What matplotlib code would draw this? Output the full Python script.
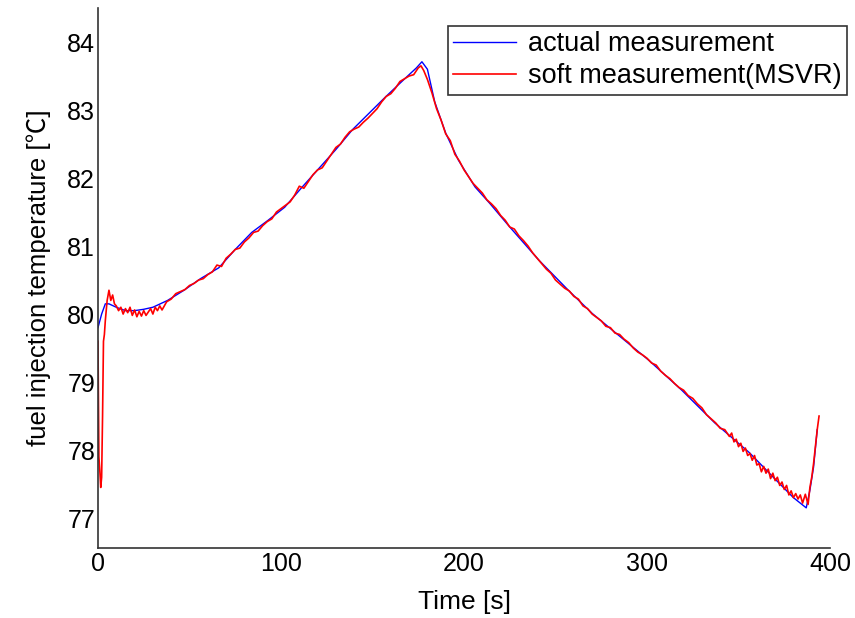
import matplotlib
matplotlib.use("Agg")
import matplotlib.pyplot as plt

plt.rcParams["font.family"] = ["Liberation Sans", "Noto Sans CJK SC", "DejaVu Sans"]

# actual measurement (blue)
actual_t = [0, 2, 4, 6, 10, 15, 20, 25, 30, 38, 47, 56, 66, 75, 84, 93, 102,
            111, 120, 130, 139, 148, 157, 168, 174, 177, 180, 184, 190, 197,
            206, 214, 225, 241, 257, 270, 283, 301, 319, 337, 356, 369, 380,
            387, 389, 391, 393]
actual_v = [79.8, 80.0, 80.15, 80.15, 80.1, 80.05, 80.05, 80.07, 80.1, 80.2,
            80.35, 80.52, 80.68, 80.95, 81.2, 81.38, 81.57, 81.85, 82.12,
            82.42, 82.71, 82.95, 83.19, 83.47, 83.62, 83.71, 83.6, 83.12,
            82.66, 82.26, 81.87, 81.63, 81.28, 80.79, 80.35, 80.01, 79.72,
            79.32, 78.88, 78.4, 77.96, 77.6, 77.3, 77.15, 77.41, 77.75, 78.3]

# soft measurement (MSVR) (red)
soft_t = [0, 0.5, 1, 1.5, 2, 2.5, 3, 3.5, 4, 5, 6, 7, 8, 9,
          10, 11.25, 12.5, 13.75, 15, 16.25, 17.5, 18.75, 20, 21.25, 22.5,
          23.75, 25, 26.25, 27.5, 28.75, 30, 31.25, 32.5, 33.75, 35,
          37.5, 40, 42.5, 45, 47.5, 50, 52.5, 55, 57.5, 60, 62.5, 65, 67.5,
          70, 72.5, 75, 77.5, 80, 82.5, 85, 87.5, 90, 92.5, 95, 97.5, 100,
          102.5, 105, 107.5, 110, 112.5, 115, 117.5, 120, 122.5, 125, 127.5,
          130, 132.5, 135, 137.5, 140, 142.5, 145, 147.5, 150, 152.5, 155,
          157.5, 160, 162.5, 165, 167.5, 170, 172.5, 175, 176.5, 178, 180,
          182.5, 185, 187.5, 190, 192.5, 195, 197.5, 200, 202.5, 205, 207.5,
          210, 212.5, 215, 217.5, 220, 222.5, 225, 227.5, 230, 232.5, 235,
          237.5, 240, 242.5, 245, 247.5, 250, 252.5, 255, 257.5, 260, 262.5,
          265, 267.5, 270, 272.5, 275, 277.5, 280, 282.5, 285, 287.5, 290,
          292.5, 295, 297.5, 300, 302.5, 305, 307.5, 310, 312.5, 315, 317.5,
          320, 322.5, 325, 327.5, 330, 332.5, 335, 337.5, 340, 342.5,
          345, 346.25, 347.5, 348.75, 350, 351.25, 352.5, 353.75, 355, 356.25,
          357.5, 358.75, 360, 361.25, 362.5, 363.75, 365, 366.25, 367.5,
          368.75, 370, 371.25, 372.5, 373.75, 375, 376.25, 377.5, 378.75, 380,
          381.25, 382.5, 383.75, 385, 386.5, 388, 389, 390, 391, 392, 393, 394]
soft_v = [79.6, 77.9, 77.7, 77.45, 77.6, 78.5, 79.6, 79.7, 79.9, 80.2, 80.35,
          80.2, 80.28, 80.15,
          80.12, 80.05, 80.1, 80.0, 80.08, 80.02, 80.1, 79.98, 80.06, 79.96,
          80.04, 79.97, 80.05, 79.98, 80.03, 80.08, 80.0, 80.1, 80.05, 80.12,
          80.06,
          80.18, 80.22, 80.3, 80.33, 80.36, 80.42, 80.45, 80.5, 80.52,
          80.58, 80.62, 80.72, 80.7, 80.82, 80.88, 80.95, 80.97, 81.06, 81.12,
          81.2, 81.22, 81.3, 81.36, 81.4, 81.5, 81.55, 81.6, 81.65, 81.75,
          81.88, 81.85, 81.95, 82.05, 82.12, 82.15, 82.25, 82.35, 82.45, 82.5,
          82.6, 82.68, 82.72, 82.75, 82.82, 82.88, 82.95, 83.02, 83.12, 83.2,
          83.24, 83.32, 83.42, 83.46, 83.5, 83.52, 83.62, 83.65, 83.58, 83.45,
          83.25, 83.02, 82.85, 82.65, 82.55, 82.35, 82.25, 82.12, 82.02, 81.92,
          81.85, 81.78, 81.68, 81.62, 81.55, 81.45, 81.38, 81.28, 81.25, 81.15,
          81.08, 81.0, 80.9, 80.82, 80.74, 80.66, 80.6, 80.5, 80.44, 80.38,
          80.34, 80.26, 80.22, 80.12, 80.08, 80.0, 79.95, 79.9, 79.82, 79.8,
          79.72, 79.7, 79.63, 79.58, 79.5, 79.44, 79.4, 79.35, 79.28, 79.25,
          79.16, 79.1, 79.05, 78.98, 78.92, 78.88, 78.8, 78.76, 78.68, 78.62,
          78.52, 78.46, 78.4, 78.32, 78.3,
          78.2, 78.25, 78.12, 78.16, 78.05, 78.1, 77.98, 78.03, 77.92, 77.95,
          77.85, 77.92, 77.78, 77.8, 77.68, 77.76, 77.66, 77.72, 77.58, 77.66,
          77.55, 77.6, 77.48, 77.53, 77.42, 77.48, 77.34, 77.4, 77.3, 77.36,
          77.28, 77.34, 77.22, 77.35, 77.2, 77.45, 77.6, 77.8, 78.05, 78.3,
          78.5]

x_ticks = [0, 100, 200, 300, 400]
y_ticks = [77, 78, 79, 80, 81, 82, 83, 84]

fig = plt.figure(figsize=(8.55, 6.18), dpi=100)
ax = fig.add_axes([0.1146, 0.1133, 0.8562, 0.8737])

ax.plot(actual_t, actual_v, color="#0000ff", lw=1.0, label="actual measurement")
ax.plot(soft_t, soft_v, color="#ff0000", lw=1.2, label="soft measurement(MSVR)")

ax.set_xlim(0, 400)
ax.set_ylim(76.56, 84.5)
ax.set_xticks(x_ticks)
ax.set_yticks(y_ticks)
ax.tick_params(length=0, labelsize=18, pad=3)
ax.tick_params(axis="y", pad=2)

for side in ["top", "right"]:
    ax.spines[side].set_visible(False)
for side in ["left", "bottom"]:
    ax.spines[side].set_color("#333333")
    ax.spines[side].set_linewidth(1.2)

ax.set_xlabel("Time [s]", fontsize=19, labelpad=10)
ax.set_ylabel("fuel injection temperature [℃]", fontsize=18.5, labelpad=12)

leg = ax.legend(loc="upper right", bbox_to_anchor=(847 / 855, 1 - 26 / 618),
                bbox_transform=fig.transFigure, fontsize=19.5, frameon=True,
                fancybox=False, framealpha=1, borderpad=0.2, labelspacing=0.22,
                handlelength=2.3, handletextpad=0.45, borderaxespad=0)
leg.get_frame().set_edgecolor("#333333")
leg.get_frame().set_linewidth(1.2)

fig.savefig("out.png", dpi=100)
